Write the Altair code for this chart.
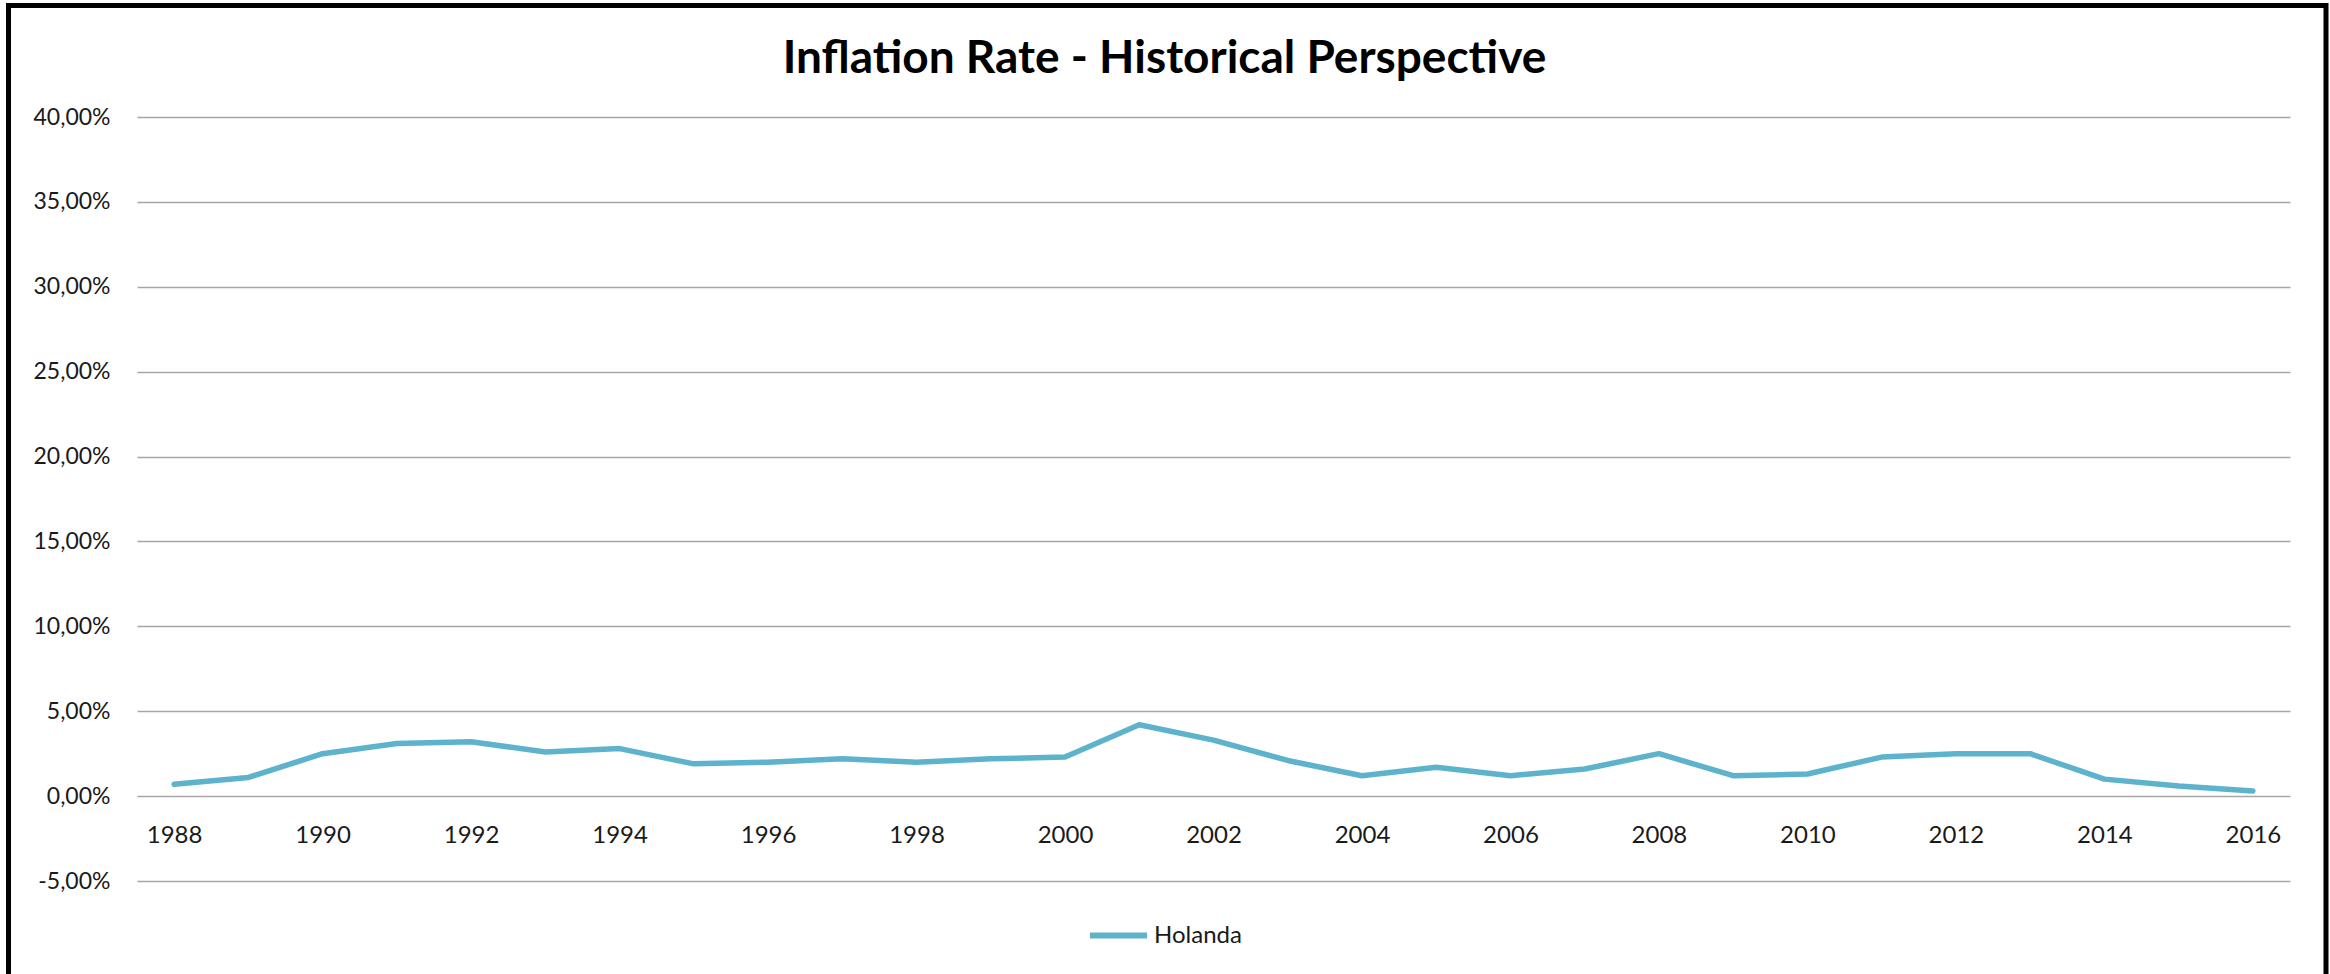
import altair as alt
import pandas as pd

# Annual inflation rate (%), Netherlands
years = list(range(1988, 2017))
inflation = [0.7, 1.1, 2.5, 3.1, 3.2, 2.6, 2.8, 1.9, 2.0, 2.2,
             2.0, 2.2, 2.3, 4.2, 3.3, 2.1, 1.2, 1.7, 1.2, 1.6,
             2.5, 1.2, 1.3, 2.3, 2.5, 2.5, 1.0, 0.6, 0.3]
series_name = "Holanda"
year_ticks = list(range(1988, 2017, 2))
y_ticks = [-5, 0, 5, 10, 15, 20, 25, 30, 35, 40]

LINE_COLOR = "#5DB3CB"
FONT = "Lato"

df = pd.DataFrame({"year": years, "rate": inflation, "series": series_name})

W, H = 2153, 764

pct_label = (
    "(datum.value < 0 ? '-' : '') + "
    "replace(format(abs(datum.value), '.2f'), '.', ',') + '%'"
)

line = alt.Chart(df).mark_line(
    strokeWidth=5.5, strokeCap="round", strokeJoin="round"
).encode(
    x=alt.X(
        "year:O",
        scale=alt.Scale(type="point", padding=0.5),
        axis=alt.Axis(
            values=year_ticks, title=None, labelAngle=0, domain=False,
            ticks=False, grid=False, offset=-85, labelPadding=27,
            labelFont=FONT, labelFontSize=24, labelColor="#1a1a1a",
        ),
    ),
    y=alt.Y(
        "rate:Q",
        scale=alt.Scale(domain=[-5, 40], nice=False, zero=False),
        axis=alt.Axis(
            values=y_ticks, title=None, domain=False, ticks=False,
            labelExpr=pct_label, labelPadding=27, gridColor="#a6a6a6",
            gridWidth=1.6, labelFont=FONT, labelFontSize=23,
            labelColor="#1a1a1a",
        ),
    ),
    color=alt.Color(
        "series:N",
        scale=alt.Scale(range=[LINE_COLOR]),
        legend=alt.Legend(
            title=None, orient="none", legendX=950, legendY=787,
            symbolType="stroke", symbolSize=3249, symbolStrokeWidth=6,
            labelFont=FONT, labelFontSize=24, labelColor="#1a1a1a",
            labelOffset=4,
        ),
    ),
)

# outer black frame around the whole figure
frame = alt.Chart(pd.DataFrame({"k": [0]})).mark_rect(
    fill=None, stroke="black", strokeWidth=5, clip=False
).encode(
    x=alt.value(-128.5), x2=alt.value(2189),
    y=alt.value(-111.5), y2=alt.value(900),
)

chart = alt.layer(frame, line).properties(
    width=W, height=H,
    title=alt.TitleParams(
        "Inflation Rate - Historical Perspective",
        font=FONT, fontSize=46, fontWeight="bold", color="black",
        anchor="middle", dx=-49, offset=-116, baseline="alphabetic",
    ),
    autosize=alt.AutoSizeParams(type="none"),
    padding={"left": 137, "top": 117, "right": 40, "bottom": 93},
    background="white",
).configure_view(stroke=None)

chart.save("out.html", embed_options={"renderer": "svg", "actions": False})
